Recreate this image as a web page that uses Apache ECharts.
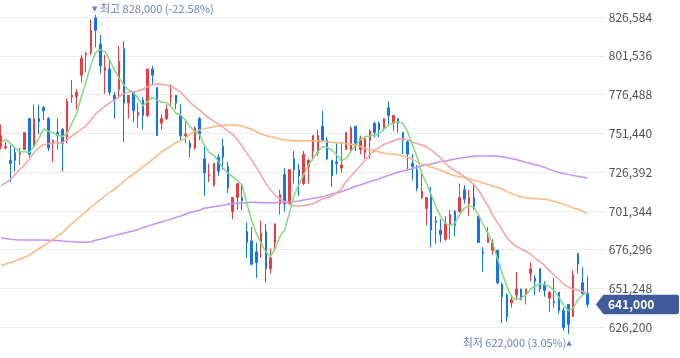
<!DOCTYPE html>
<html>
<head>
<meta charset="utf-8">
<script src="https://cdn.jsdelivr.net/npm/echarts@6/dist/echarts.min.js"></script>
<style>
html,body{margin:0;padding:0;background:#fff;}
#chart{width:680px;height:358px;}
</style>
</head>
<body>
<div id="chart"></div>
<script>
// ---- data (KRW) ----
const opens = [743000,742000,734000,739000,738000,741000,761000,743000,761000,768000,
761000,745000,752000,754000,749000,775000,775000,789000,802000,804000,
826000,809000,792000,793000,776000,780000,806000,771000,778000,763000,
773000,763000,793000,781000,758000,761000,775000,776000,763000,750000,
745000,742000,761000,735000,724000,718000,736000,743000,730000,701000,
710000,710000,688000,682000,675000,681000,688000,664000,681000,706000,
725000,706000,735000,728000,719000,730000,740000,739000,756000,747000,
734000,733000,729000,741000,741000,756000,741000,739000,747000,758000,
758000,755000,768000,758000,761000,752000,746000,732000,728000,710000,
703000,712000,695000,689000,683000,693000,701000,701000,715000,706000,
710000,698000,675000,681000,676000,676000,654000,647000,642000,647000,
651000,648000,661000,658000,664000,654000,645000,643000,649000,637000,
641000,633000,674000,655000,648000];
const closes = [750000,743000,732000,734000,739000,752000,738000,761000,759000,766000,
742000,747000,750000,745000,772000,776000,778000,800000,803000,818000,
818000,795000,794000,778000,773000,798000,771000,776000,766000,765000,
763000,793000,789000,750000,761000,767000,776000,771000,750000,751000,
742000,755000,751000,726000,725000,732000,727000,736000,716000,710000,
719000,708000,681000,667000,668000,687000,664000,671000,693000,712000,
706000,728000,728000,724000,738000,734000,750000,750000,747000,735000,
724000,732000,731000,752000,755000,745000,748000,748000,753000,752000,
754000,761000,763000,763000,758000,747000,738000,730000,716000,714000,
710000,689000,694000,686000,693000,699000,692000,710000,709000,710000,
704000,681000,674000,684000,681000,655000,646000,633000,644000,651000,
644000,651000,664000,656000,651000,650000,649000,642000,637000,626000,
628000,660000,667000,648000,641000];
const highs = [757000,746000,744000,743000,742000,752000,761000,770000,770000,769000,
762000,747000,761000,755000,774000,786000,780000,802000,804000,825000,
828000,815000,802000,799000,778000,808000,811000,776000,778000,771000,
775000,793000,795000,781000,764000,770000,783000,776000,770000,760000,
747000,756000,762000,743000,732000,732000,738000,748000,733000,710000,
719000,718000,694000,691000,681000,695000,693000,677000,693000,715000,
729000,728000,740000,732000,740000,735000,750000,754000,766000,749000,
734000,745000,746000,752000,756000,756000,750000,749000,754000,759000,
759000,761000,772000,763000,761000,752000,747000,738000,731000,726000,
710000,717000,698000,696000,698000,702000,702000,719000,718000,715000,
719000,698000,678000,691000,683000,676000,655000,648000,647000,662000,
651000,651000,668000,660000,664000,656000,649000,658000,649000,639000,
641000,663000,674000,665000,659000];
const lows = [741000,741000,720000,727000,731000,741000,736000,742000,751000,760000,
740000,733000,741000,727000,745000,771000,767000,784000,791000,802000,
807000,790000,777000,776000,761000,774000,746000,761000,759000,755000,
754000,762000,783000,750000,754000,760000,769000,767000,747000,745000,
736000,741000,747000,711000,720000,717000,724000,728000,713000,696000,
702000,702000,671000,666000,658000,671000,655000,661000,676000,699000,
701000,706000,719000,711000,718000,719000,734000,737000,746000,734000,
717000,725000,726000,741000,740000,740000,738000,735000,735000,749000,
749000,753000,757000,753000,752000,738000,728000,721000,714000,709000,
692000,678000,680000,681000,682000,683000,685000,700000,706000,698000,
702000,681000,662000,681000,673000,654000,629000,630000,639000,644000,
644000,641000,656000,647000,649000,646000,636000,639000,635000,624000,
622000,633000,661000,647000,639000];
const ma5 = [745400,747600,745000,741800,739600,739600,739000,742900,748200,754300,
752600,751900,750400,749300,751500,757900,764400,775100,784800,795600,
803600,805700,804200,798800,792400,787000,782700,779500,777700,774100,
769100,771900,774700,773000,771500,771300,768700,764400,763300,760100,
755800,752600,750700,744000,739000,737500,733200,728900,725700,723500,
720900,718100,706300,695500,686900,680500,675100,671800,677200,684800,
689100,699800,711700,718100,724600,731000,735300,739600,742900,742400,
740700,737500,733800,735300,739600,744000,747200,749300,749800,750400,
751500,754100,756900,758400,759000,757900,752600,744000,736400,725700,
719200,711700,704100,697700,693400,691900,693400,698800,703100,704600,
703700,698800,692300,686900,680500,670800,661100,652500,646000,643900,
645000,647100,650800,652900,654200,653600,652500,649900,645600,640700,
636800,638500,643900,647100,648200];
const ma20 = [717500,719600,721600,724800,728200,731000,734900,739200,742200,744000,
744800,745400,745400,745400,747200,749800,751900,754100,756400,759900,
764000,766500,769100,771100,773000,775100,777100,778200,778400,778600,
779900,781600,782900,783300,783100,782700,781800,780100,778000,774700,
771500,768700,766600,763700,761400,759400,757500,755300,753000,750800,
747400,743100,738600,734300,729500,724600,719200,715100,711400,709100,
707400,705600,704600,704600,704800,705200,706100,707600,709100,709900,
711000,713000,715500,720300,723700,727200,730600,734000,737500,740300,
742400,744400,745400,746700,747800,748000,747400,745700,744800,743900,
742900,740700,738100,735700,732100,729300,727200,725700,723500,721100,
718300,714900,709700,704600,698500,693800,689100,684100,680900,678500,
676800,675500,673400,670800,668600,666000,662800,660000,657200,654200,
652100,650800,650100,649300,648200];
const ma60 = [666000,667100,668000,669100,670300,671400,672700,674900,677000,678700,
680900,683000,685200,687300,690400,693200,695700,698500,700900,703700,
706300,708700,711000,713400,715500,717700,720500,723100,725000,727400,
730000,731900,734500,737100,739600,741400,743500,745400,746700,748300,
751000,752500,753500,754500,755100,755800,756200,756600,756900,756900,
756600,756200,755100,754100,752600,751000,750000,749300,748700,747800,
747200,747000,746700,746700,746700,746700,746700,746500,746300,746100,
745700,745400,745200,744800,744400,743900,742900,741800,740900,740300,
739400,738800,738300,738100,737700,736800,736000,734700,733000,731700,
730800,729700,728700,727600,726300,725000,724100,723500,722900,722000,
721400,720500,719400,718500,717500,716600,715500,713800,712700,711400,
710400,709900,709500,709300,709100,708900,708400,707600,706700,705600,
704600,703300,702400,701300,699400];
const ma120 = [684100,683500,683000,682800,682600,682600,682600,682600,682600,682600,
682400,682200,682200,681900,681700,681500,681300,681100,681100,681500,
682400,683000,683900,684800,685400,686300,686900,687800,688400,689300,
690600,691400,692500,693400,694400,695100,696200,697200,698100,699200,
700300,701100,701800,703100,703500,704100,704600,705000,705600,706100,
706300,706500,706700,706900,706900,706700,706700,706700,706700,706900,
706900,707100,707400,707800,708400,708900,709500,709900,710600,711400,
712300,713000,713800,714900,716000,717300,718100,719200,720300,721100,
722200,723300,724400,725400,726500,727200,727800,728700,729500,730400,
731000,731700,732500,733200,733600,734300,734900,735300,735800,736400,
736600,736800,736800,736800,736800,736600,736200,735800,735100,734500,
733600,732700,732100,731200,730400,729500,728200,727200,726100,725500,
724800,724200,723700,723300,722400];
const yTickStart = 601152, yTickEnd = 851632, yTickStep = 25048;
const emptySlots = 3; // blank trading slots to the right of the last candle

// ---- derived ----
const fmt = v => v.toLocaleString('en-US');
const categories = [];
for (let i = 0; i < opens.length + emptySlots; i++) categories.push(String(i + 1));
const candles = opens.map((o, i) => [o, closes[i], lows[i], highs[i]]);
const hiVal = Math.max(...highs), hiIdx = highs.indexOf(hiVal);
const loVal = Math.min(...lows), loIdx = lows.indexOf(loVal);
const lastIdx = closes.length - 1, last = closes[lastIdx];
const hiPct = ((last / hiVal - 1) * 100).toFixed(2);
const loPct = ((last / loVal - 1) * 100).toFixed(2);

const UP = '#ee3a40', DOWN = '#1575e8', TAG = '#3f5b9a', NOTE = '#6d7eb8';
const FONT = '"Noto Sans CJK KR", "Noto Sans", sans-serif';

const chart = echarts.init(document.getElementById('chart'), null, {renderer: 'canvas'});
const line = (name, data, color) => ({
  name, type: 'line', data, symbol: 'none', showSymbol: false, silent: true,
  lineStyle: {color, width: 1.5}, z: 3, animation: false
});
chart.setOption({
  animation: false,
  backgroundColor: '#ffffff',
  grid: {left: -1.36, right: 76.2, top: -21.8, bottom: -8.1, containLabel: false, outerBoundsMode: 'none'},
  xAxis: {type: 'category', data: categories, show: false, boundaryGap: true},
  yAxis: {
    type: 'value', position: 'right', min: yTickStart, max: yTickEnd, interval: yTickStep,
    axisLine: {show: false}, axisTick: {show: false},
    splitLine: {show: true, lineStyle: {color: '#ececec', width: 1}},
    axisLabel: {color: '#505050', fontSize: 12, fontFamily: FONT, margin: 5,
      showMinLabel: false, showMaxLabel: false, formatter: v => fmt(v)}
  },
  series: [
    {
      name: 'price', type: 'candlestick', data: candles, barWidth: 2, z: 2, silent: true,
      itemStyle: {color: UP, color0: DOWN, borderColor: UP, borderColor0: DOWN, borderWidth: 1},
      markPoint: {
        silent: true, animation: false,
        data: [
          {coord: [hiIdx, hiVal], symbol: 'circle', symbolSize: 1, itemStyle: {color: 'rgba(0,0,0,0)'},
           label: {show: true, position: [-3, -5.5], align: 'left', verticalAlign: 'middle',
             fontFamily: FONT, fontSize: 11, color: NOTE,
             formatter: '{t|▼} 최고 ' + fmt(hiVal) + ' (' + hiPct + '%)',
             rich: {t: {fontSize: 7, color: NOTE, fontFamily: 'DejaVu Sans'}}}},
          {coord: [loIdx, loVal], symbol: 'circle', symbolSize: 1, itemStyle: {color: 'rgba(0,0,0,0)'},
           label: {show: true, position: [4, 9.5], align: 'right', verticalAlign: 'middle',
             fontFamily: FONT, fontSize: 11, color: NOTE,
             formatter: '최저 ' + fmt(loVal) + ' (' + loPct + '%){t|▲}',
             rich: {t: {fontSize: 7, color: NOTE, fontFamily: 'DejaVu Sans'}}}},
          {coord: [lastIdx, last],
           symbol: 'path://M0,10 L7,0.6 Q7.4,0 8.2,0 L81,0 Q83,0 83,2 L83,18 Q83,20 81,20 L8.2,20 Q7.4,20 7,19.4 Z',
           symbolSize: [83, 19.5], symbolOffset: [50.2, 0], itemStyle: {color: TAG},
           label: {show: true, position: [12, 9.75], align: 'left', verticalAlign: 'middle',
             fontFamily: FONT, fontSize: 12, fontWeight: 'bold', color: '#ffffff',
             formatter: fmt(last)}}
        ]
      }
    },
    line('MA120', ma120, '#c392f7'),
    line('MA60', ma60, '#fdb77c'),
    line('MA20', ma20, '#f6a1a1'),
    line('MA5', ma5, '#84da82')
  ]
});
</script>
</body>
</html>
